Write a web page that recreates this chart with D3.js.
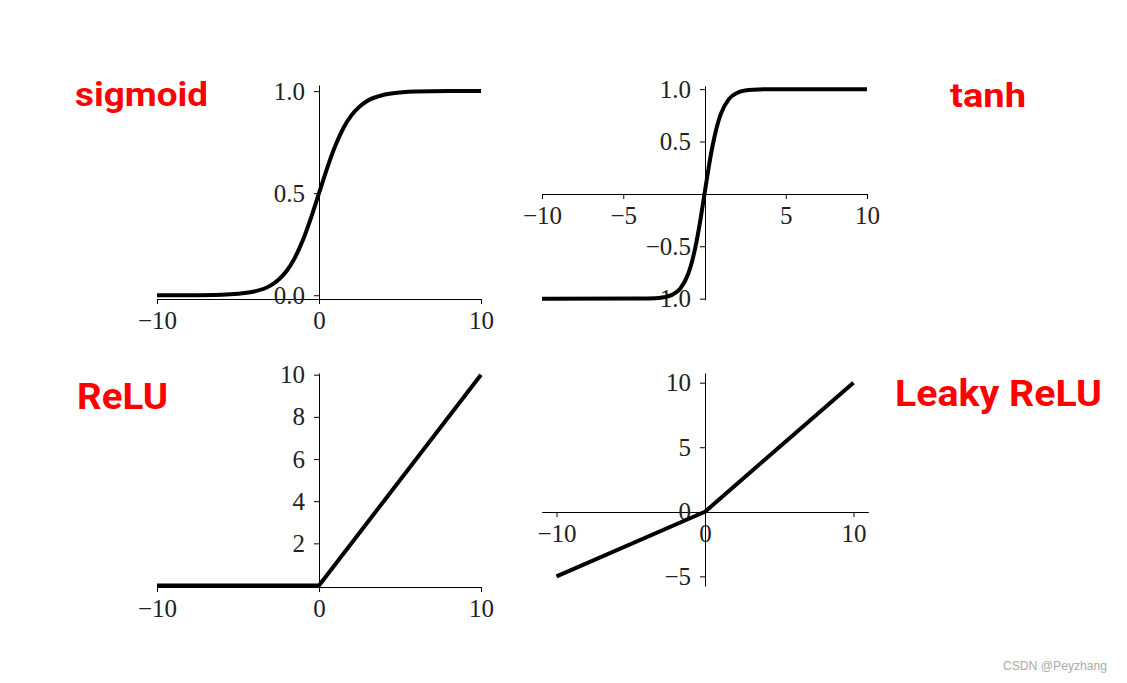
<!DOCTYPE html>
<html lang="en">
  <head>
    <meta charset="UTF-8" />
    <title>activation functions</title>
    <style>
      body { margin: 0; background: #fff; }
      .domain, .tick line { stroke: #000; stroke-width: 1; }
      .title { font-family: Roboto, "Noto Sans", sans-serif; font-weight: 700; fill: #ff0000; }
    </style>
  </head>
  <body>
    <div id="wrapper"></div>
    <script src="https://d3js.org/d3.v7.min.js"></script>
    <script>
      // values
      var sigmoidX = [-10, -8, -6, -5, -4, -3, -2.5, -2, -1.5, -1, -0.5, 0, 0.5, 1, 1.5, 2, 2.5, 3, 4, 5, 6, 8, 10];
      var sigmoidY = [0.0, 0.0003, 0.0025, 0.007, 0.018, 0.047, 0.076, 0.119, 0.182, 0.269, 0.378, 0.5,
                      0.622, 0.731, 0.818, 0.881, 0.924, 0.953, 0.982, 0.993, 0.998, 1.0, 1.0];

      var tanhX = [-10, -4, -3, -2.5, -2, -1.5, -1, -0.75, -0.5, -0.25, 0, 0.25, 0.5, 0.75, 1, 1.5, 2, 2.5, 3, 4, 10];
      var tanhY = [-1.0, -0.999, -0.995, -0.987, -0.964, -0.905, -0.762, -0.635, -0.462, -0.245, 0,
                   0.245, 0.462, 0.635, 0.762, 0.905, 0.964, 0.987, 0.995, 0.999, 1.0];

      var reluX = [-10, 0, 10];
      var reluY = [0, 0, 10];

      var leakyX = [-10, 0, 10];
      var leakyY = [-5, 0, 10];

      var sigmoidXTicks = [-10, 0, 10], sigmoidYTicks = [0, 0.5, 1];
      var tanhXTicks = [-10, -5, 5, 10], tanhYTicks = [-1, -0.5, 0.5, 1];
      var reluXTicks = [-10, 0, 10], reluYTicks = [2, 4, 6, 8, 10];
      var leakyXTicks = [-10, 0, 10], leakyYTicks = [-5, 0, 5, 10];

      var W = 1127, H = 683;
      var svg = d3.select("#wrapper").append("svg")
          .attr("width", W).attr("height", H);

      function styleTicks(sel) {
        sel.selectAll(".tick text")
            .style("font-family", "'Liberation Serif', 'Times New Roman', serif")
            .style("font-size", "25px")
            .style("fill", "#222");
      }

      function panel(p) {
        var x = d3.scaleLinear().domain(p.xDomain).range(p.xRange);
        var y = d3.scaleLinear().domain(p.yDomain).range(p.yRange);
        var g = svg.append("g");

        // x axis (spine)
        var xAt = p.xAxisAt === "bottom" ? p.yRange[0] : y(0);
        g.append("g")
            .attr("transform", "translate(0," + Math.round(xAt) + ")")
            .call(d3.axisBottom(x).tickValues(p.xTicks).tickSize(5).tickSizeOuter(0)
              .tickPadding(7).tickFormat(p.xFormat || d3.format("d")))
            .call(styleTicks);

        // y axis (spine at x = 0)
        g.append("g")
            .attr("transform", "translate(" + Math.round(x(0)) + ",0)")
            .call(d3.axisLeft(y).tickValues(p.yTicks).tickSize(5).tickSizeOuter(0)
              .tickPadding(9).tickFormat(p.yFormat || d3.format("d")))
            .call(styleTicks);

        var line = d3.line()
            .x(function (d) { return x(d[0]); })
            .y(function (d) { return y(d[1]); })
            .curve(p.curve || d3.curveLinear);

        g.append("path")
            .datum(d3.zip(p.xs, p.ys))
            .attr("d", line)
            .attr("fill", "none")
            .attr("stroke", "#000")
            .attr("stroke-width", 4)
            .attr("stroke-linejoin", "round");
      }

      panel({
        xs: sigmoidX, ys: sigmoidY, curve: d3.curveMonotoneX,
        xDomain: [-10, 10], xRange: [157, 481],
        yDomain: [-0.017, 1.03], yRange: [298.7, 85],
        xAxisAt: "bottom", xTicks: sigmoidXTicks, yTicks: sigmoidYTicks,
        yFormat: d3.format(".1f")
      });

      panel({
        xs: tanhX, ys: tanhY, curve: d3.curveMonotoneX,
        xDomain: [-10, 10], xRange: [542, 867],
        yDomain: [-1.01, 1.03], yRange: [299.7, 86],
        xTicks: tanhXTicks, yTicks: tanhYTicks,
        yFormat: d3.format(".1f")
      });

      panel({
        xs: reluX, ys: reluY,
        xDomain: [-10, 10], xRange: [157, 481],
        yDomain: [-0.07, 10.08], yRange: [587, 373],
        xAxisAt: "bottom", xTicks: reluXTicks, yTicks: reluYTicks
      });

      panel({
        xs: leakyX, ys: leakyY,
        xDomain: [-11, 11], xRange: [541.7, 868.3],
        yDomain: [-5.75, 10.75], yRange: [586, 373],
        xTicks: leakyXTicks, yTicks: leakyYTicks
      });

      // red titles
      var titles = [
        { text: "sigmoid", x: 75, y: 106, size: 33, len: 133 },
        { text: "tanh", x: 950, y: 107, size: 33, len: 76 },
        { text: "ReLU", x: 77, y: 409, size: 36, len: 91 },
        { text: "Leaky ReLU", x: 895, y: 406, size: 36, len: 207 }
      ];
      svg.selectAll(".title").data(titles).enter().append("text")
          .attr("class", "title")
          .attr("x", function (d) { return d.x; })
          .attr("y", function (d) { return d.y; })
          .attr("font-size", function (d) { return d.size + "px"; })
          .attr("textLength", function (d) { return d.len; })
          .attr("lengthAdjust", "spacingAndGlyphs")
          .text(function (d) { return d.text; });

      // watermark
      svg.append("text")
          .attr("x", 1003).attr("y", 670)
          .attr("font-family", "Liberation Sans, sans-serif")
          .attr("font-size", "13px")
          .attr("fill", "#aaa")
          .attr("textLength", 104)
          .attr("lengthAdjust", "spacingAndGlyphs")
          .text("CSDN @Peyzhang");
    </script>
  </body>
</html>
